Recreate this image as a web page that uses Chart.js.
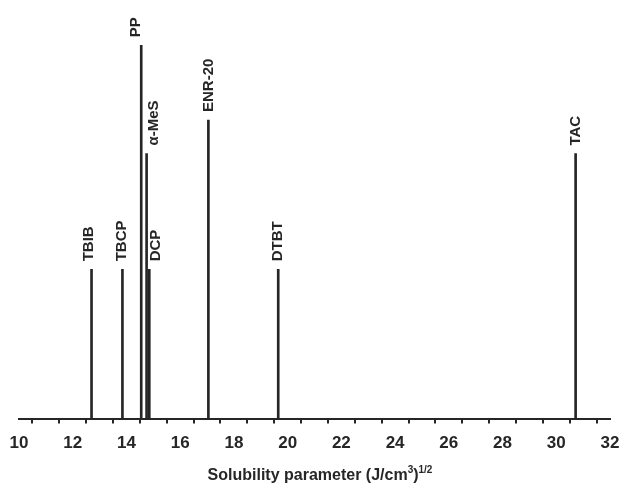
<!DOCTYPE html>
<html>
<head>
<meta charset="utf-8">
<script src="https://cdn.jsdelivr.net/npm/chart.js@4.4.1/dist/chart.umd.min.js"></script>
<style>
  html, body { margin: 0; padding: 0; background: #fff; }
  #wrap { width: 622px; height: 487px; position: relative; }
</style>
</head>
<body>
<div id="wrap"><canvas id="chart"></canvas></div>
<script>
// Data
const compounds = ['TBIB', 'TBCP', 'PP', 'α-MeS', 'DCP', 'ENR-20', 'DTBT', 'TAC'];
const solubility = [12.7, 13.85, 14.55, 14.75, 14.85, 17.05, 19.65, 30.72];
const intensity = [40, 40, 100, 71, 40, 80, 40, 71];
const xTicks = [10, 12, 14, 16, 18, 20, 22, 24, 26, 28, 30, 32];

// label nudges (px) so crowded labels don't overlap
const labelShift = { 'TBIB': -3, 'TBCP': -1, 'PP': -5, 'α-MeS': 7, 'DCP': 7 };

const INK = '#262626';
const FONT = "'Liberation Sans', Arial, sans-serif";

// rotated labels on top of each line
const lineLabels = {
  id: 'lineLabels',
  afterDatasetsDraw(chart) {
    const { ctx, scales } = chart;
    ctx.save();
    ctx.font = 'bold 15px ' + FONT;
    ctx.fillStyle = INK;
    ctx.textAlign = 'left';
    ctx.textBaseline = 'middle';
    compounds.forEach((name, i) => {
      const x = scales.x.getPixelForValue(solubility[i]) + (labelShift[name] || 0);
      const y = scales.y.getPixelForValue(intensity[i]) - 8;
      ctx.save();
      ctx.translate(x, y);
      ctx.rotate(-Math.PI / 2);
      ctx.fillText(name, 0, 0);
      ctx.restore();
    });
    ctx.restore();
  }
};

// axis title with superscripts
const axisTitle = {
  id: 'axisTitle',
  afterDraw(chart) {
    const { ctx } = chart;
    const parts = [
      ['Solubility parameter (J/cm', 16, 0],
      ['3', 10, -7],
      [')', 16, 0],
      ['1/2', 10, -7]
    ];
    ctx.save();
    ctx.fillStyle = INK;
    ctx.textBaseline = 'alphabetic';
    let total = 0;
    parts.forEach(p => { ctx.font = 'bold ' + p[1] + 'px ' + FONT; total += ctx.measureText(p[0]).width; });
    let x = 320 - total / 2;
    const y = 480;
    parts.forEach(p => {
      ctx.font = 'bold ' + p[1] + 'px ' + FONT;
      ctx.fillText(p[0], x, y + p[2]);
      x += ctx.measureText(p[0]).width;
    });
    ctx.restore();
  }
};

new Chart(document.getElementById('chart'), {
  type: 'bar',
  data: {
    datasets: [{
      data: solubility.map((s, i) => ({ x: s, y: intensity[i] })),
      backgroundColor: INK,
      borderWidth: 0,
      barThickness: 2
    }]
  },
  options: {
    responsive: true,
    maintainAspectRatio: false,
    animation: false,
    layout: { padding: { left: 19, right: 12, top: 8, bottom: 23 } },
    plugins: { legend: { display: false }, tooltip: { enabled: false } },
    scales: {
      x: {
        type: 'linear',
        min: 10,
        max: 32,
        offset: false,
        afterFit: s => { s.paddingLeft = 0; s.paddingRight = 0; },
        border: { color: INK, width: 2 },
        grid: { display: true, drawOnChartArea: false, drawTicks: true, tickLength: 5, color: INK, lineWidth: 2 },
        ticks: {
          stepSize: 1,
          autoSkip: false,
          maxRotation: 0,
          padding: 10,
          color: INK,
          font: { family: FONT, size: 17, weight: 'bold' },
          callback: v => xTicks.includes(v) ? String(v) : ''
        }
      },
      y: {
        display: false,
        min: 0,
        max: 110
      }
    }
  },
  plugins: [lineLabels, axisTitle]
});
</script>
</body>
</html>
